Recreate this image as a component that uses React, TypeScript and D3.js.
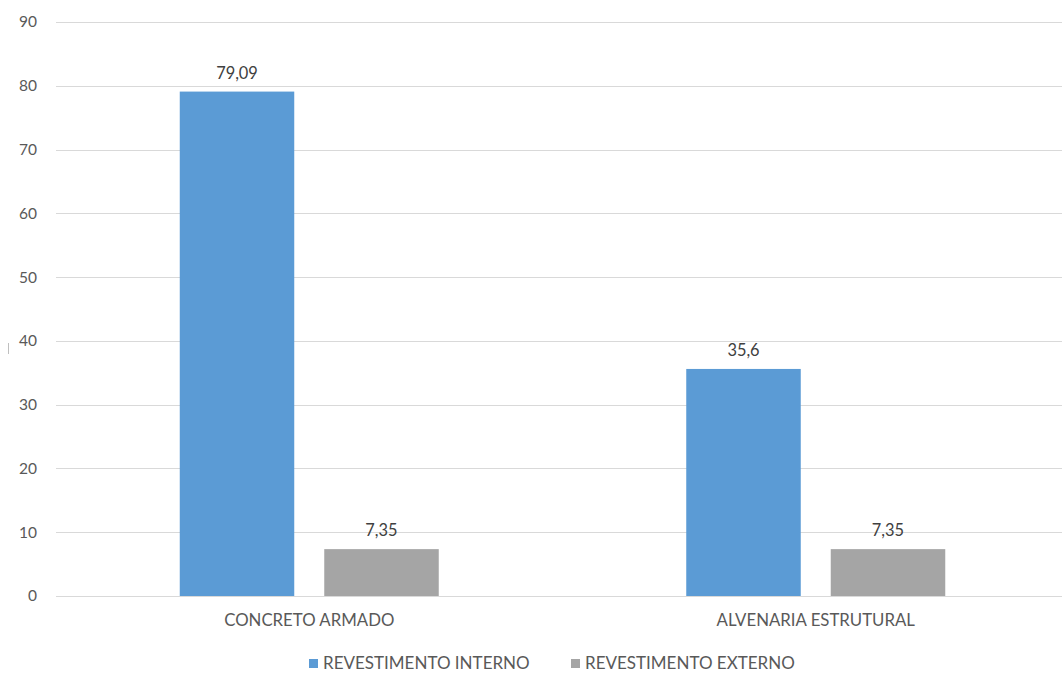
import React, { useRef, useEffect } from 'react';
import * as d3 from 'd3';

const categories = ['CONCRETO ARMADO', 'ALVENARIA ESTRUTURAL'];
const seriesNames = ['REVESTIMENTO INTERNO', 'REVESTIMENTO EXTERNO'];
const interno = [79.09, 35.6];
const externo = [7.35, 7.35];
const yTicks = [0, 10, 20, 30, 40, 50, 60, 70, 80, 90];
const colors = ['#5B9BD5', '#A5A5A5'];

export default function App() {
  const svgRef = useRef<SVGSVGElement>(null);

  useEffect(() => {
    if (!svgRef.current) return;
    const width = 1062;
    const height = 675;
    const font = 'Lato, sans-serif';
    const textColor = '#595959';

    const svg = d3.select(svgRef.current);
    svg.selectAll('*').remove();
    svg.attr('width', width).attr('height', height);

    const rows = categories.map((c, i) => ({ category: c, values: [interno[i], externo[i]] }));

    const x0 = d3.scaleBand().domain(categories).range([56, 1069]).paddingInner(0).paddingOuter(0);
    const x1 = d3.scaleBand()
      .domain(seriesNames)
      .range([0, x0.bandwidth()])
      .paddingInner(0.2076)
      .paddingOuter(0.8564);
    const y = d3.scaleLinear().domain([0, 90]).range([596, 22]);

    // grid
    svg.append('g')
      .selectAll('line')
      .data(yTicks)
      .enter()
      .append('line')
      .attr('x1', 56)
      .attr('x2', width)
      .attr('y1', d => Math.round(y(d)) + 0.5)
      .attr('y2', d => Math.round(y(d)) + 0.5)
      .attr('stroke', '#D9D9D9')
      .attr('stroke-width', 1);

    // y tick labels
    svg.append('g')
      .selectAll('text')
      .data(yTicks)
      .enter()
      .append('text')
      .attr('x', 37)
      .attr('y', d => y(d))
      .attr('dy', '0.35em')
      .attr('text-anchor', 'end')
      .style('font-family', font)
      .style('font-size', '15.5px')
      .style('fill', textColor)
      .text(d => d);

    // stray mark on the left
    svg.append('line')
      .attr('x1', 8.5).attr('x2', 8.5)
      .attr('y1', 343).attr('y2', 354)
      .attr('stroke', '#BFBFBF');

    const groups = svg.append('g')
      .selectAll('g')
      .data(rows)
      .enter()
      .append('g')
      .attr('transform', d => `translate(${x0(d.category)},0)`);

    groups.selectAll('rect')
      .data(d => d.values.map((v, j) => ({ series: seriesNames[j], value: v, j })))
      .enter()
      .append('rect')
      .attr('x', d => x1(d.series) || 0)
      .attr('width', x1.bandwidth())
      .attr('y', d => y(d.value))
      .attr('height', d => y(0) - y(d.value))
      .attr('fill', d => colors[d.j]);

    groups.selectAll('text.label')
      .data(d => d.values.map((v, j) => ({ series: seriesNames[j], value: v })))
      .enter()
      .append('text')
      .attr('class', 'label')
      .attr('x', d => (x1(d.series) || 0) + x1.bandwidth() / 2)
      .attr('y', d => y(d.value) - 13)
      .attr('text-anchor', 'middle')
      .style('font-family', font)
      .style('font-size', '16.4px')
      .style('fill', '#404040')
      .text(d => String(d.value).replace('.', ','));

    // category labels
    svg.append('g')
      .selectAll('text')
      .data(categories)
      .enter()
      .append('text')
      .attr('x', d => (x0(d) || 0) + x0.bandwidth() / 2)
      .attr('y', 626)
      .attr('text-anchor', 'middle')
      .style('font-family', font)
      .style('font-size', '16.8px')
      .style('fill', textColor)
      .text(d => d);

    // legend
    const legendX = [309, 571];
    const legend = svg.append('g')
      .selectAll('g')
      .data(seriesNames)
      .enter()
      .append('g')
      .attr('transform', (d, i) => `translate(${legendX[i]},659)`);
    legend.append('rect')
      .attr('width', 9)
      .attr('height', 9)
      .attr('fill', (d, i) => colors[i]);
    legend.append('text')
      .attr('x', 14)
      .attr('y', 4.5)
      .attr('dy', '0.35em')
      .style('font-family', font)
      .style('font-size', '17px')
      .style('fill', textColor)
      .text(d => d);
  }, []);

  return (
    <div style={{ position: 'absolute', left: 0, top: 0, width: 1062, height: 675, background: '#fff' }}>
      <svg ref={svgRef} style={{ display: 'block' }} />
    </div>
  );
}
